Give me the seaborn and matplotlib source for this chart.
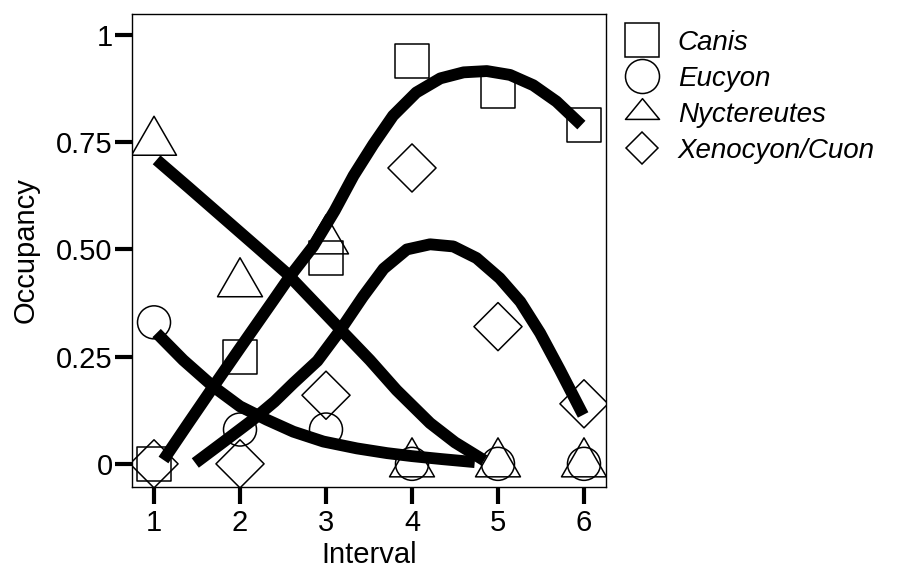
import matplotlib
matplotlib.use("Agg")
import matplotlib.pyplot as plt
from matplotlib.lines import Line2D
from matplotlib.path import Path
import seaborn as sns

# Observed occupancy per interval
intervals = [1, 2, 3, 4, 5, 6]
canis = [0, 0.25, 0.48, 0.94, 0.87, 0.79]
eucyon = [0.33, 0.08, 0.08, 0, 0, 0]
nyctereutes = [0.75, 0.42, 0.52, 0, 0, 0]
xenocyon = [0, 0, 0.16, 0.69, 0.32, 0.14]

# Fitted trend curves
canis_fit_x = [1.11, 1.4, 1.69, 2.0, 2.39, 2.58, 2.85, 3.1, 3.32, 3.55, 3.78, 4.05, 4.33, 4.6, 4.87, 5.14, 5.41, 5.68, 5.97]
canis_fit_y = [0.009, 0.095, 0.18, 0.27, 0.382, 0.437, 0.507, 0.59, 0.672, 0.745, 0.812, 0.866, 0.899, 0.913, 0.916, 0.907, 0.883, 0.845, 0.79]
eucyon_fit_x = [1.03, 1.34, 1.69, 2.0, 2.31, 2.62, 2.97, 3.36, 3.71, 4.0, 4.35, 4.73]
eucyon_fit_y = [0.305, 0.242, 0.18, 0.134, 0.103, 0.075, 0.052, 0.036, 0.025, 0.018, 0.011, 0.004]
nyct_fit_x = [1.03, 1.4, 1.88, 2.2, 2.54, 2.85, 3.16, 3.51, 3.82, 4.21, 4.5, 4.84]
nyct_fit_y = [0.709, 0.645, 0.561, 0.505, 0.445, 0.38, 0.315, 0.242, 0.172, 0.095, 0.05, 0.008]
xeno_fit_x = [1.48, 1.8, 2.15, 2.4, 2.62, 2.9, 3.16, 3.43, 3.67, 3.94, 4.21, 4.48, 4.75, 5.02, 5.26, 5.49, 5.72, 5.99]
xeno_fit_y = [0.002, 0.05, 0.103, 0.145, 0.188, 0.24, 0.31, 0.39, 0.455, 0.5, 0.512, 0.507, 0.48, 0.433, 0.378, 0.305, 0.219, 0.114]

labels = ["Canis", "Eucyon", "Nyctereutes", "Xenocyon/Cuon"]

sns.set_style("ticks")
plt.rcParams["font.family"] = ["Liberation Sans", "DejaVu Sans"]
plt.rcParams["text.color"] = "black"
plt.rcParams["axes.labelcolor"] = "black"

# triangle centred on its centroid, a bit wider than tall
tri = Path([(0, 2), (-1.73, -1), (1.73, -1), (0, 2)], closed=True)
tri_leg = Path([(0, 2), (-2.46, -1), (2.46, -1), (0, 2)], closed=True)

fig = plt.figure(figsize=(9.11, 5.68), dpi=100)
ax = fig.add_axes([0.1449, 0.1426, 0.5203, 0.8327])

point_kw = dict(facecolor="none", edgecolor="black", linewidth=1.1, ax=ax, zorder=2)
sns.scatterplot(x=intervals, y=canis, marker="s", s=600, **point_kw)
sns.scatterplot(x=intervals, y=eucyon, marker="o", s=565, **point_kw)
sns.scatterplot(x=intervals, y=nyctereutes, marker=tri, s=1400, **point_kw)
sns.scatterplot(x=intervals, y=xenocyon, marker="D", s=600, **point_kw)

line_kw = dict(color="black", linewidth=8.5, sort=False, solid_capstyle="butt",
               solid_joinstyle="round", ax=ax, zorder=3)
sns.lineplot(x=canis_fit_x, y=canis_fit_y, **line_kw)
sns.lineplot(x=eucyon_fit_x, y=eucyon_fit_y, **line_kw)
sns.lineplot(x=nyct_fit_x, y=nyct_fit_y, **line_kw)
sns.lineplot(x=xeno_fit_x, y=xeno_fit_y, **line_kw)

ax.set_xlim(0.744, 6.256)
ax.set_ylim(-0.054, 1.049)
ax.set_xticks(intervals)
ax.set_yticks([0, 0.25, 0.5, 0.75, 1])
ax.set_yticklabels(["0", "0.25", "0.50", "0.75", "1"])
ax.tick_params(axis="both", length=12, width=3, labelsize=21, colors="black")
ax.tick_params(axis="y", pad=2)
for sp in ax.spines.values():
    sp.set_visible(True)
    sp.set_linewidth(1.0)
    sp.set_color("black")

ax.set_xlabel("Interval", fontsize=21, labelpad=3, color="black")
ax.set_ylabel("Occupancy", fontsize=21, labelpad=12, color="black")

leg_kw = dict(linestyle="none", markerfacecolor="none", markeredgecolor="black", markeredgewidth=1.1)
handles = [
    Line2D([], [], marker="s", markersize=24.5, **leg_kw),
    Line2D([], [], marker="o", markersize=24.5, **leg_kw),
    Line2D([], [], marker=tri_leg, markersize=24.5, **leg_kw),
    Line2D([], [], marker="D", markersize=15.8, **leg_kw),
]
leg = ax.legend(handles, labels, loc="upper left", bbox_to_anchor=(0.6844, 0.948),
                bbox_transform=fig.transFigure, frameon=False, borderpad=0, borderaxespad=0,
                handlelength=1.33, handletextpad=0.63, labelspacing=0.36,
                prop={"size": 20, "style": "italic"})
for t in leg.get_texts():
    t.set_color("black")

fig.savefig("out.png", dpi=100)
